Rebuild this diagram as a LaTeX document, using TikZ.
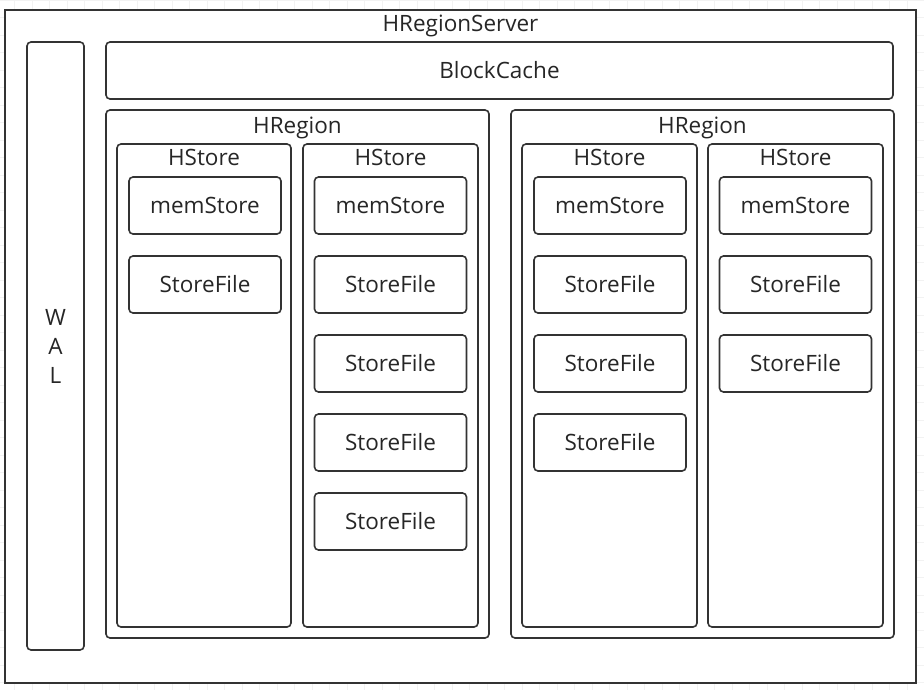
\documentclass[tikz,border=0pt]{standalone}
\usepackage{fontspec}
\setmainfont{Open Sans}
\usetikzlibrary{positioning}
\tikzset{boxStyle/.style={rectangle, draw=black!80, line width=1.6pt, rounded corners=4pt, fill=white, inner sep=0pt, text=black!85, font=\fontsize{22.5}{29}\selectfont}}
\tikzset{fileStyle/.style={boxStyle, minimum width=152pt, minimum height=57pt}}
\tikzset{storeStyle/.style={boxStyle, minimum width=175pt, minimum height=483pt}}
\tikzset{regionStyle/.style={boxStyle, minimum width=383pt, minimum height=528pt}}
\tikzset{titleStyle/.style={inner sep=0pt, text=black!85, font=\fontsize{22.5}{29}\selectfont}}

\begin{document}
\begin{tikzpicture}[x=1pt, y=-1pt, node distance=20.4pt]
  \useasboundingbox (0,0) rectangle (924,690);
  % background grid
  \draw [gray!10, line width=0.5pt, step=17.5pt, xshift=-3pt] (3,0) grid (927,690);

  % server
  \node at (460.5, 346.5) [boxStyle, rounded corners=0pt, minimum width=911pt, minimum height=673pt] (server){};
  \node [titleStyle, below=6pt of server.north] (serverT){HRegionServer};
  \node at (55.5, 346) [boxStyle, minimum width=57pt, minimum height=608pt, align=center] (wal){W\\A\\L};
  \node at (499.5, 70.5) [boxStyle, minimum width=787pt, minimum height=57pt] (cache){BlockCache};

  % regions
  \node at (297.5, 374) [regionStyle] (regionL){};
  \node at (702.5, 374) [regionStyle] (regionR){};
  \node [titleStyle, below=8pt of regionL.north] (regionLT){HRegion};
  \node [titleStyle, below=8pt of regionR.north] (regionRT){HRegion};

  % stores
  \node at (204, 385.5) [storeStyle, minimum width=174pt] (storeA){};
  \node at (390.5, 385.5) [storeStyle] (storeB){};
  \node at (609.5, 385.5) [storeStyle] (storeC){};
  \node at (795.5, 385.5) [storeStyle] (storeD){};
  \foreach \s in {A, B, C, D}
    \node [titleStyle, below=6pt of store\s.north] (store\s T){HStore};

  % memstores
  \node at (205, 205.5) [fileStyle] (memA){memStore};
  \node at (390.5, 205.5) [fileStyle] (memB){memStore};
  \node at (610, 205.5) [fileStyle] (memC){memStore};
  \node at (795.5, 205.5) [fileStyle] (memD){memStore};

  % storefiles
  \node [fileStyle, below=of memA] (fileA1){StoreFile};

  \node [fileStyle, below=of memB] (fileB1){StoreFile};
  \node [fileStyle, below=of fileB1] (fileB2){StoreFile};
  \node [fileStyle, below=of fileB2] (fileB3){StoreFile};
  \node [fileStyle, below=of fileB3] (fileB4){StoreFile};

  \node [fileStyle, below=of memC] (fileC1){StoreFile};
  \node [fileStyle, below=of fileC1] (fileC2){StoreFile};
  \node [fileStyle, below=of fileC2] (fileC3){StoreFile};

  \node [fileStyle, below=of memD] (fileD1){StoreFile};
  \node [fileStyle, below=of fileD1] (fileD2){StoreFile};
\end{tikzpicture}
\end{document}
